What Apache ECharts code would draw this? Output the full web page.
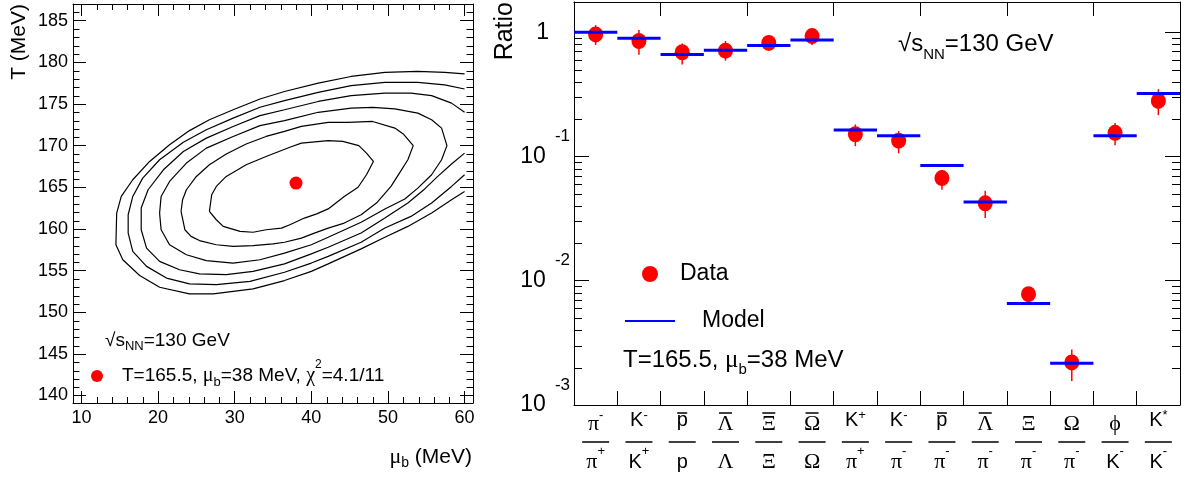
<!DOCTYPE html>
<html>
<head>
<meta charset="utf-8">
<script src="https://cdn.jsdelivr.net/npm/echarts@6/dist/echarts.min.js"></script>
<style>
  html, body { margin: 0; padding: 0; background: #fff; }
  #chart { width: 1189px; height: 477px; }
</style>
</head>
<body>
<div id="chart"></div>
<script>
const FONT = 'Liberation Sans, Arial, Helvetica, sans-serif';
const SERIF = 'Liberation Serif, DejaVu Serif, serif';

// ---------- left panel: chi^2 contours in the (mu_b, T) plane ----------
const muTicks = [10, 20, 30, 40, 50, 60];
const muMinorTicks = [12, 14, 16, 18, 22, 24, 26, 28, 32, 34, 36, 38, 42, 44, 46, 48, 52, 54, 56, 58];
const tTicks = [140, 145, 150, 155, 160, 165, 170, 175, 180, 185];
const tMinorTicks = [141, 142, 143, 144, 146, 147, 148, 149, 151, 152, 153, 154, 156, 157, 158, 159,
  161, 162, 163, 164, 166, 167, 168, 169, 171, 172, 173, 174, 176, 177, 178, 179, 181, 182, 183, 184, 186];

const bestT = 165.5;
const bestMu = 38;
const chi2Text = '4.1/11';

const contour1 = [[26.7,162.1],[27.0,164.1],[27.6,165.1],[28.9,166.3],[31.5,167.7],[34.1,168.7],[37.2,169.8],[38.7,170.3],[42.2,170.6],[44.1,170.5],[46.2,170.0],[47.2,169.1],[48.1,168.1],[47.2,166.5],[46.1,165.0],[44.3,163.9],[42.2,162.4],[40.7,161.8],[39.1,161.3],[37.2,160.5],[36.1,160.1],[34.1,159.9],[32.4,159.6],[30.7,159.7],[28.5,160.3],[27.6,161.1],[26.7,162.1]];
const contour2 = [[23.0,162.1],[23.2,163.5],[23.7,164.7],[25.0,166.3],[26.7,167.7],[28.9,169.0],[31.5,170.2],[34.1,171.1],[36.5,171.7],[38.7,172.3],[42.2,172.8],[44.8,172.8],[48.0,172.9],[50.9,172.1],[52.0,171.4],[53.3,170.0],[52.6,168.3],[51.5,166.7],[50.4,165.1],[48.5,163.1],[46.5,161.7],[44.3,160.7],[42.2,160.1],[40.4,159.5],[38.7,158.9],[36.5,158.4],[35.0,158.2],[32.4,158.0],[29.8,157.9],[27.6,158.1],[25.4,158.6],[24.3,159.1],[23.5,159.9],[23.0,162.1]];
const contour3 = [[20.2,161.9],[20.4,163.9],[21.5,165.7],[23.7,167.9],[26.3,169.7],[29.8,171.1],[33.3,172.4],[36.5,173.0],[40.9,174.0],[45.2,174.5],[48.0,174.6],[50.9,174.4],[53.9,173.9],[55.7,173.1],[57.0,172.1],[57.7,170.0],[57.0,168.3],[55.7,166.5],[53.9,164.9],[52.2,163.6],[49.6,162.4],[46.5,160.8],[42.2,159.0],[40.0,158.1],[36.5,157.1],[33.3,156.3],[29.8,155.9],[26.3,156.2],[23.7,156.9],[21.5,158.1],[20.4,159.9],[20.2,161.9]];
const contour4 = [[60.0,174.0],[58.3,175.1],[55.7,176.0],[53.0,176.3],[49.6,176.3],[45.2,176.0],[40.9,175.3],[36.5,174.3],[33.3,173.6],[29.8,172.3],[26.3,170.9],[23.3,169.3],[20.7,167.1],[18.7,164.7],[17.8,162.5],[17.8,159.9],[18.5,157.7],[20.2,156.1],[22.8,155.1],[25.4,154.6],[28.9,154.5],[32.4,154.9],[36.5,155.8],[40.0,157.0],[42.2,157.8],[46.5,159.5],[49.6,161.3],[52.6,163.1],[54.8,164.8],[56.5,166.3],[58.3,167.8],[60.0,169.1]];
const contour5 = [[60.0,176.8],[57.4,177.3],[53.9,177.6],[49.6,177.6],[45.2,177.2],[40.9,176.4],[36.5,175.4],[33.3,174.6],[29.8,173.3],[26.3,171.9],[23.3,170.4],[20.2,168.3],[18.0,166.1],[16.7,163.9],[16.1,161.7],[16.1,159.5],[16.7,157.3],[18.5,155.5],[21.1,154.1],[24.1,153.4],[27.6,153.3],[32.0,153.7],[36.5,154.8],[40.0,155.9],[42.2,156.7],[46.5,158.4],[49.6,160.1],[53.0,161.5],[55.7,163.1],[58.3,165.1],[60.0,166.5]];
const contour6 = [[60.0,178.6],[57.4,178.8],[53.9,178.9],[49.6,178.8],[45.2,178.3],[40.9,177.5],[36.5,176.5],[33.3,175.6],[29.8,174.3],[26.7,173.1],[24.1,171.8],[21.5,170.1],[18.9,168.1],[16.7,165.9],[15.2,163.9],[14.6,161.9],[14.5,158.1],[15.4,156.3],[17.6,154.4],[20.2,153.0],[24.1,152.2],[27.2,152.2],[32.4,152.8],[36.5,153.8],[40.0,154.9],[42.2,155.8],[46.5,157.6],[49.6,159.0],[52.6,160.3],[55.7,161.9],[58.3,163.5],[60.0,164.5]];
const contours = [contour1, contour2, contour3, contour4, contour5, contour6];

// ---------- right panel: particle ratios, data vs. model ----------
// "\u0304" marks an antiparticle bar over the preceding letter
const ratioNames = ['\u03c0-/\u03c0+', 'K-/K+', 'p\u0304/p', '\u039b\u0304/\u039b', '\u039e\u0304/\u039e', '\u03a9\u0304/\u03a9',
  'K+/\u03c0+', 'K-/\u03c0-', 'p\u0304/\u03c0-', '\u039b\u0304/\u03c0-', '\u039e/\u03c0-', '\u03a9/\u03c0-', '\u03d5/K-', 'K*/K-'];
const dataRatio = [0.96, 0.85, 0.69, 0.71, 0.82, 0.93, 0.151, 0.134, 0.067, 0.042, 0.0078, 0.0022, 0.155, 0.28];
const dataLow   = [0.79, 0.66, 0.55, 0.59, 0.76, 0.79, 0.121, 0.106, 0.054, 0.032, 0.0073, 0.00156, 0.123, 0.215];
const dataHigh  = [1.14, 1.04, 0.81, 0.85, 0.88, 1.07, 0.181, 0.160, 0.078, 0.053, 0.0084, 0.0028, 0.186, 0.348];
const modelRatio = [1.0, 0.895, 0.662, 0.716, 0.782, 0.867, 0.163, 0.1465, 0.0847, 0.043, 0.00656, 0.00217, 0.1465, 0.321];
const logMinorTicks = [0.002, 0.003, 0.004, 0.005, 0.006, 0.007, 0.008, 0.009,
  0.02, 0.03, 0.04, 0.05, 0.06, 0.07, 0.08, 0.09,
  0.2, 0.3, 0.4, 0.5, 0.6, 0.7, 0.8, 0.9];

const fitName = 'T=' + bestT + ', \u03bcb=' + bestMu + ' MeV, \u03c72=' + chi2Text;

// ---------- helpers ----------
const black = '#000';
const red = '#ff0000';
const blue = '#0000ff';

function minorTickSeries(xi, yi, points, dir, len) {
  return {
    type: 'custom', xAxisIndex: xi, yAxisIndex: yi, silent: true, z: 6,
    data: points,
    renderItem(params, api) {
      const cs = params.coordSys;
      const p = api.coord([api.value(0), api.value(1)]);
      const st = { stroke: black, lineWidth: 1 };
      if (dir === 'x') {
        const x = Math.round(p[0]) + 0.5;
        return { type: 'group', children: [
          { type: 'line', shape: { x1: x, y1: cs.y + cs.height, x2: x, y2: cs.y + cs.height - len }, style: st },
          { type: 'line', shape: { x1: x, y1: cs.y, x2: x, y2: cs.y + len }, style: st }
        ] };
      }
      const y = Math.round(p[1]) + 0.5;
      return { type: 'group', children: [
        { type: 'line', shape: { x1: cs.x, y1: y, x2: cs.x + len, y2: y }, style: st },
        { type: 'line', shape: { x1: cs.x + cs.width, y1: y, x2: cs.x + cs.width - len, y2: y }, style: st }
      ] };
    }
  };
}

// split "K-" / "p\u0304" into base letter, bar flag and superscript
const greekRe = /[\u0370-\u03ff]/;
function ratioPart(s, role) {
  const base = s[0];
  let rest = s.slice(1);
  let bar = false;
  if (rest[0] === '\u0304') { bar = true; rest = rest.slice(1); }
  const g = greekRe.test(base);
  let txt = '{' + role + (g ? 'g' : 's') + '|' + base + '}';
  if (rest) txt += '{' + role + 'sup|' + rest + '}';
  return { txt, bar, g };
}
function ratioLabel(name) {
  const parts = name.split('/');
  const n = ratioPart(parts[0], 'n');
  const d = ratioPart(parts[1], 'd');
  const ov = n.bar ? (n.g ? '{ovg| }' : '{ovs| }') : '{ov0| }';
  return ov + '\n' + n.txt + '\n{frac| }\n' + d.txt;
}

const axisLineStyle = { show: true, onZero: false, lineStyle: { color: black, width: 1 } };

const option = {
  animation: false,
  backgroundColor: '#fff',
  textStyle: { fontFamily: FONT, color: black },
  grid: [
    { left: 73, top: 4, width: 400, height: 399, containLabel: false, outerBoundsMode: 'none' },
    { left: 574, top: 2, width: 606, height: 403, containLabel: false, outerBoundsMode: 'none' }
  ],
  xAxis: [
    { gridIndex: 0, type: 'value', position: 'bottom', min: 8.9, max: 61.1,
      axisLine: axisLineStyle,
      axisTick: { show: true, inside: true, length: 12, customValues: muTicks, lineStyle: { color: black } },
      axisLabel: { customValues: muTicks, fontSize: 18, color: black, fontFamily: FONT, margin: 6 },
      splitLine: { show: false } },
    { gridIndex: 0, type: 'value', position: 'top', min: 8.9, max: 61.1,
      axisLine: axisLineStyle,
      axisTick: { show: true, inside: true, length: 12, customValues: muTicks, lineStyle: { color: black } },
      axisLabel: { show: false }, splitLine: { show: false } },
    { gridIndex: 1, type: 'category', position: 'bottom', data: ratioNames,
      axisLine: axisLineStyle,
      axisTick: { show: true, inside: true, length: 14, lineStyle: { color: black } },
      axisLabel: {
        interval: 0, margin: 5.5, color: black, formatter: ratioLabel,
        rich: {
          ov0: { fontSize: 1, lineHeight: 5 },
          ovs: { width: 10, height: 1.5, lineHeight: 5, backgroundColor: black, fontSize: 1 },
          ovg: { width: 13, height: 1.5, lineHeight: 5, backgroundColor: black, fontSize: 1 },
          ns: { fontFamily: FONT, fontSize: 20, lineHeight: 9, color: black },
          ng: { fontFamily: SERIF, fontSize: 22, lineHeight: 9, padding: [8, 0, 0, 0], color: black },
          nsup: { fontFamily: FONT, fontSize: 13, lineHeight: 1, padding: [0, 0, 10, 0], color: black },
          frac: { width: 27, height: 1.5, lineHeight: 35, backgroundColor: black, fontSize: 1 },
          ds: { fontFamily: FONT, fontSize: 20, lineHeight: 6, color: black },
          dg: { fontFamily: SERIF, fontSize: 22, lineHeight: 6, color: black },
          dsup: { fontFamily: FONT, fontSize: 13, lineHeight: 1, padding: [0, 0, 22, 0], color: black }
        }
      },
      splitLine: { show: false } },
    { gridIndex: 1, type: 'category', position: 'top', data: ratioNames,
      axisLine: axisLineStyle,
      axisTick: { show: true, inside: true, length: 14, lineStyle: { color: black } },
      axisLabel: { show: false }, splitLine: { show: false } }
  ],
  yAxis: [
    { gridIndex: 0, type: 'value', position: 'left', min: 139.1, max: 187,
      axisLine: axisLineStyle,
      axisTick: { show: true, inside: true, length: 13, customValues: tTicks, lineStyle: { color: black } },
      axisLabel: { customValues: tTicks, fontSize: 18, color: black, fontFamily: FONT, margin: 5 },
      splitLine: { show: false } },
    { gridIndex: 0, type: 'value', position: 'right', min: 139.1, max: 187,
      axisLine: axisLineStyle,
      axisTick: { show: true, inside: true, length: 13, customValues: tTicks, lineStyle: { color: black } },
      axisLabel: { show: false }, splitLine: { show: false } },
    { gridIndex: 1, type: 'log', logBase: 10, position: 'left', min: 0.001, max: 1.75,
      axisLine: axisLineStyle,
      axisTick: { show: true, inside: true, length: 15, lineStyle: { color: black } },
      axisLabel: {
        margin: 4, color: black,
        formatter(v) {
          const e = Math.log10(v);
          const r = Math.round(e);
          if (Math.abs(e - r) > 1e-6) return '';
          return r === 0 ? '{one|1}' : '{b|10}{e|' + r + '}';
        },
        rich: {
          one: { fontFamily: FONT, fontSize: 23, lineHeight: 23, padding: [0, 21, 0, 0], color: black },
          b: { fontFamily: FONT, fontSize: 23, lineHeight: 23, color: black },
          e: { fontFamily: FONT, fontSize: 17, lineHeight: 23, padding: [0, 0, 40, 9], color: black }
        }
      },
      splitLine: { show: false } },
    { gridIndex: 1, type: 'log', logBase: 10, position: 'right', min: 0.001, max: 1.75,
      axisLine: axisLineStyle,
      axisTick: { show: true, inside: true, length: 15, lineStyle: { color: black } },
      axisLabel: { show: false }, splitLine: { show: false } }
  ],
  legend: [
    {
      data: [{ name: 'Data', icon: 'circle' }, { name: 'Model', icon: 'path://M0,0H50V2H0Z' }],
      orient: 'vertical', left: 620, top: 257, itemWidth: 50, itemHeight: 16, itemGap: 23,
      selectedMode: false,
      formatter: (n) => n === 'Model' ? '{m|Model}' : '{d|' + n + '}',
      textStyle: {
        fontFamily: FONT, fontSize: 23, lineHeight: 24, color: black,
        rich: {
          d: { fontFamily: FONT, fontSize: 23, lineHeight: 24, color: black },
          m: { fontFamily: FONT, fontSize: 23, lineHeight: 24, padding: [0, 0, 0, 22], color: black }
        }
      }
    },
    {
      data: [{ name: fitName, icon: 'circle' }],
      left: 91, top: 359, padding: 0, itemWidth: 24, itemHeight: 12, selectedMode: false,
      formatter: () => '{a|T=' + bestT + ', }{g|\u03bc}{sub|b}{a|=' + bestMu + ' MeV, }{g|\u03c7}{sup|2}{a|=' + chi2Text + '}',
      textStyle: {
        fontFamily: FONT, fontSize: 19, lineHeight: 18, color: black,
        rich: {
          a: { fontFamily: FONT, fontSize: 19, lineHeight: 18, color: black },
          g: { fontFamily: SERIF, fontSize: 20, lineHeight: 18, color: black },
          sub: { fontFamily: FONT, fontSize: 13, lineHeight: 18, padding: [12, 0, 0, 0], color: black },
          sup: { fontFamily: FONT, fontSize: 12, lineHeight: 18, padding: [0, 0, 22, 0], color: black }
        },
        padding: [0, 0, 0, 8]
      }
    }
  ],
  graphic: [
    { type: 'text', x: 19, y: 4, rotation: Math.PI / 2, silent: true,
      style: { text: 'T (MeV)', fontFamily: FONT, fontSize: 21, fill: black, align: 'right', verticalAlign: 'middle' } },
    { type: 'text', x: 472, y: 457, silent: true,
      style: { text: '{g|\u03bc}{sub|b}{a| (MeV)}', align: 'right', verticalAlign: 'middle', fill: black,
        rich: {
          g: { fontFamily: SERIF, fontSize: 22, fill: black },
          sub: { fontFamily: FONT, fontSize: 14, padding: [12, 0, 0, 0], fill: black },
          a: { fontFamily: FONT, fontSize: 21, fill: black }
        } } },
    { type: 'text', x: 105, y: 341, silent: true,
      style: { text: '{a|\u221as}{sub|NN}{a|=130 GeV}', align: 'left', verticalAlign: 'middle', fill: black,
        rich: {
          a: { fontFamily: FONT, fontSize: 19, lineHeight: 20, fill: black },
          sub: { fontFamily: FONT, fontSize: 13, lineHeight: 20, padding: [10, 0, 0, 0], fill: black }
        } } },
    { type: 'text', x: 505, y: 2, rotation: Math.PI / 2, silent: true,
      style: { text: 'Ratio', fontFamily: FONT, fontSize: 25, fill: black, align: 'right', verticalAlign: 'middle' } },
    { type: 'text', x: 898, y: 44, silent: true,
      style: { text: '{a|\u221as}{sub|NN}{a|=130 GeV}', align: 'left', verticalAlign: 'middle', fill: black,
        rich: {
          a: { fontFamily: FONT, fontSize: 24, lineHeight: 26, fill: black },
          sub: { fontFamily: FONT, fontSize: 15, lineHeight: 26, padding: [22, 0, 0, 0], fill: black }
        } } },
    { type: 'text', x: 623, y: 360, silent: true,
      style: { text: '{a|T=' + bestT + ', }{g|\u03bc}{sub|b}{a|=' + bestMu + ' MeV}', align: 'left', verticalAlign: 'middle', fill: black,
        rich: {
          a: { fontFamily: FONT, fontSize: 24, lineHeight: 26, fill: black },
          g: { fontFamily: SERIF, fontSize: 25, lineHeight: 26, fill: black },
          sub: { fontFamily: FONT, fontSize: 15, lineHeight: 26, padding: [20, 0, 0, 0], fill: black }
        } } }
  ],
  series: [
    // contour lines
    ...contours.map((c, i) => ({
      type: 'line', name: 'contour' + (i + 1), xAxisIndex: 0, yAxisIndex: 0,
      data: c, symbol: 'none', smooth: false, silent: true, z: 2,
      lineStyle: { color: black, width: 1.2 }
    })),
    // best-fit point
    { type: 'scatter', name: fitName, xAxisIndex: 0, yAxisIndex: 0,
      data: [[bestMu, bestT]], symbol: 'circle', symbolSize: 13, z: 4,
      itemStyle: { color: red, opacity: 1 } },
    minorTickSeries(0, 0, muMinorTicks.map(v => [v, 160]), 'x', 6),
    minorTickSeries(0, 0, tMinorTicks.map(v => [30, v]), 'y', 6.5),

    // data error bars
    { type: 'custom', name: 'errors', xAxisIndex: 2, yAxisIndex: 2, silent: true, z: 3,
      data: ratioNames.map((n, i) => [i, dataLow[i], dataHigh[i]]),
      renderItem(params, api) {
        const lo = api.coord([api.value(0), api.value(1)]);
        const hi = api.coord([api.value(0), api.value(2)]);
        return { type: 'line', shape: { x1: lo[0], y1: lo[1], x2: hi[0], y2: hi[1] },
          style: { stroke: red, lineWidth: 1.5 } };
      } },
    // data points
    { type: 'scatter', name: 'Data', xAxisIndex: 2, yAxisIndex: 2,
      data: dataRatio.map((v, i) => [i, v]), symbol: 'circle', symbolSize: [15, 16], z: 4,
      itemStyle: { color: red, opacity: 1 } },
    // model values, one bar across each category
    { type: 'custom', name: 'Model', xAxisIndex: 2, yAxisIndex: 2, z: 5,
      itemStyle: { color: blue },
      data: modelRatio.map((v, i) => [i, v]),
      renderItem(params, api) {
        const c = api.coord([api.value(0), api.value(1)]);
        const w = params.coordSys.width / ratioNames.length;
        return { type: 'rect', shape: { x: c[0] - w / 2, y: c[1] - 1.5, width: w, height: 3 },
          style: { fill: blue } };
      } },
    minorTickSeries(2, 2, logMinorTicks.map(v => [0, v]), 'y', 8)
  ]
};

const chart = echarts.init(document.getElementById('chart'), null, { renderer: 'canvas' });
chart.setOption(option);
</script>
</body>
</html>
